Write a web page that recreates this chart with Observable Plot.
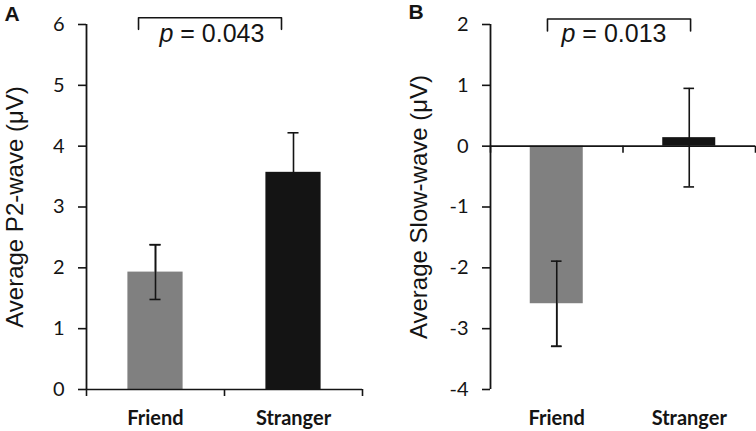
<!DOCTYPE html>
<html><head><meta charset="utf-8">
<script src="https://cdn.jsdelivr.net/npm/d3@7"></script>
<script src="https://cdn.jsdelivr.net/npm/@observablehq/plot@0.6"></script>
<style>
body{margin:0;background:#fff;}
#row{display:flex;width:756px;height:431px;overflow:hidden;}
#row svg{flex:none;}
</style></head><body><div id="row"></div>
<script>
const categories = ["Friend", "Stranger"];
const p2Means = [1.93, 3.57];
const p2Errors = [0.45, 0.65];
const slowMeans = [-2.59, 0.14];
const slowErrors = [0.70, 0.81];
const p2Ticks = [0, 1, 2, 3, 4, 5, 6];
const slowTicks = [-4, -3, -2, -1, 0, 1, 2];
const barColors = ["#808080", "#141414"];
const panelLetters = ["A", "B"];
const yTitles = ["Average P2-wave (μV)", "Average Slow-wave (μV)"];
const pValues = ["0.043", "0.013"];

const INK = "#141414";
const SANS = "'Liberation Sans', Arial, sans-serif";
const TICKFONT = "Lato, 'Open Sans', sans-serif";

function errorMarks(data) {
  const o = {stroke: INK, strokeWidth: 1.6};
  return [
    Plot.ruleX(data, {x: "pos", y1: "lo", y2: "hi", ...o}),
    Plot.ruleY(data, {y: "hi", x1: d => d.pos - 0.04, x2: d => d.pos + 0.04, ...o}),
    Plot.ruleY(data, {y: "lo", x1: d => d.pos - 0.04, x2: d => d.pos + 0.04, ...o})
  ];
}

function panel({letter, title, means, errors, ticks, pValue, marginLeft, marginRight, bracket, pPos, letterDy}) {
  const rows = categories.map((c, i) => ({
    cat: c, pos: i + 0.5, mean: means[i],
    lo: means[i] - errors[i], hi: means[i] + errors[i], color: barColors[i]
  }));
  const boundaries = d3.range(categories.length + 1);
  const bracketPts = [
    {x: bracket.x1, y: bracket.leg}, {x: bracket.x1, y: bracket.top},
    {x: bracket.x2, y: bracket.top}, {x: bracket.x2, y: bracket.leg}
  ];
  const pLabel = "p = " + pValue;
  const svg = Plot.plot({
    width: 378, height: 431,
    marginTop: 24, marginBottom: 42, marginLeft, marginRight,
    x: {domain: [0, categories.length]},
    y: {domain: [ticks[0], ticks[ticks.length - 1]]},
    color: {type: "identity"},
    style: {background: "white", color: INK, fontFamily: TICKFONT, overflow: "visible"},
    marks: [
      // error bars beneath the bars (hidden where the bar is black) ...
      ...errorMarks(rows),
      Plot.rect(rows, {x1: d => d.pos - 0.2, x2: d => d.pos + 0.2, y1: () => 0, y2: "mean", fill: "color"}),
      // ... and over the grey bar, where they show
      ...errorMarks(rows.filter(d => d.color !== INK)),
      Plot.ruleY([0], {stroke: INK, strokeWidth: 1.6}),
      Plot.ruleX([0], {stroke: INK, strokeWidth: 1.8}),
      Plot.ruleX(boundaries, {y1: () => 0, y2: () => 0, insetBottom: -7, stroke: INK, strokeWidth: 1.6}),
      Plot.axisY({ticks, tickSize: 8, tickPadding: 14, tickFormat: d => String(d), label: null,
        fontSize: 20, fontFamily: TICKFONT, strokeWidth: 1.6}),
      Plot.axisX({ticks: rows.map(d => d.pos), tickFormat: v => categories[Math.floor(v)], tickSize: 0,
        tickPadding: 21, label: null, fontSize: 20, fontWeight: "bold", fontFamily: TICKFONT}),
      Plot.line(bracketPts, {x: "x", y: "y", stroke: INK, strokeWidth: 1.6}),
      Plot.text([{x: pPos.x, y: pPos.y, t: pLabel}], {x: "x", y: "y", text: "t", lineAnchor: "bottom",
        textAnchor: "middle", fontSize: 25, fontFamily: SANS}),
      Plot.text([title], {frameAnchor: "left", rotate: -90, dx: -64, lineAnchor: "bottom",
        textAnchor: "middle", fontSize: 24, fontFamily: SANS}),
      Plot.text([letter], {frameAnchor: "top-left", dx: -82, dy: letterDy, lineAnchor: "bottom",
        textAnchor: "start", fontSize: 21, fontWeight: "bold", fontFamily: SANS})
    ]
  });
  d3.select(svg).selectAll("text").filter(function() { return this.textContent === pLabel; })
    .each(function() {
      const t = d3.select(this);
      t.text(null);
      t.append("tspan").attr("font-style", "italic").text("p");
      t.append("tspan").text(" = " + pValue);
    });
  return svg;
}

const row = document.getElementById("row");
row.appendChild(panel({
  letter: panelLetters[0], title: yTitles[0], means: p2Means, errors: p2Errors, ticks: p2Ticks,
  pValue: pValues[0], marginLeft: 86, marginRight: 16,
  bracket: {x1: 0.377, x2: 1.413, top: 6.11, leg: 5.92}, pPos: {x: 0.909, y: 5.71}, letterDy: -4
}));
row.appendChild(panel({
  letter: panelLetters[1], title: yTitles[1], means: slowMeans, errors: slowErrors, ticks: slowTicks,
  pValue: pValues[1], marginLeft: 112, marginRight: 1,
  bracket: {x1: 0.43, x2: 1.51, top: 2.09, leg: 1.895}, pPos: {x: 0.932, y: 1.71}, letterDy: -5.5
}));
</script>
</body></html>
